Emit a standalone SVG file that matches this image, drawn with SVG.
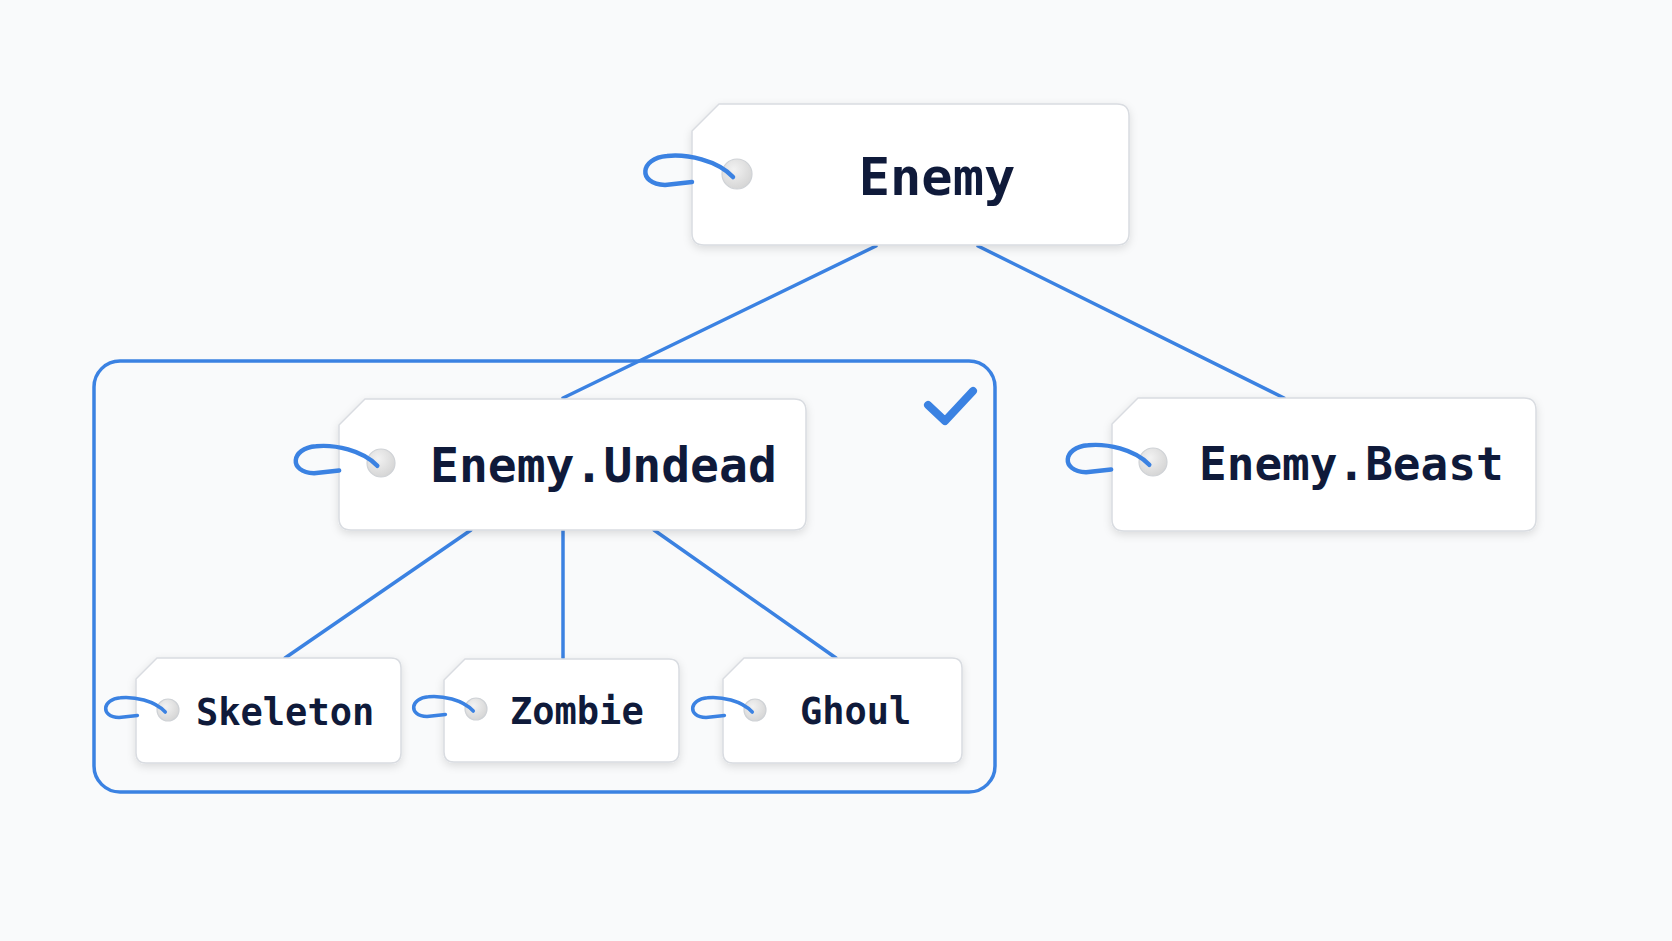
<svg xmlns="http://www.w3.org/2000/svg" xmlns:xlink="http://www.w3.org/1999/xlink" width="1672" height="941" viewBox="0 0 1672 941">
<style>
.tag{fill:#ffffff;stroke:#d9dce1;stroke-width:1.5;filter:url(#sh)}
.hole{fill:url(#hg);stroke:#cfd2d6;stroke-width:1.2}
.loop{fill:none;stroke:#3b82e2;stroke-linecap:round;stroke-linejoin:round}
.edge{fill:none;stroke:#3b82e2;stroke-width:3.5;stroke-linecap:round}
.lbl{font-family:"DejaVu Sans Mono","Liberation Mono",monospace;font-weight:bold;fill:#0f1a3a}
</style>
<defs>
<filter id="sh" x="-10%" y="-10%" width="120%" height="130%">
<feDropShadow dx="0" dy="3" stdDeviation="4" flood-color="#000" flood-opacity="0.12"/>
</filter>
<radialGradient id="hg" cx="0.4" cy="0.35" r="0.7">
<stop offset="0" stop-color="#f2f2f2"/>
<stop offset="1" stop-color="#d4d4d4"/>
</radialGradient>
<path id="lp" d="M -4 3 C -20 -14 -50 -20 -70 -18 C -97 -16 -100 10 -72 11 L -45 8"/>
</defs>
<rect width="1672" height="941" fill="#f9fafb"/>

<g id="group-undead">
<rect x="94" y="361" width="901" height="431" rx="26" fill="none" stroke="#3b82e2" stroke-width="3.5"/>
<path d="M928 405 L945 421 L973 391" fill="none" stroke="#3b82e2" stroke-width="8" stroke-linecap="round" stroke-linejoin="round"/>
</g>

<g id="connectors">
<line class="edge" x1="876" y1="246" x2="563" y2="398"/>
<line class="edge" x1="978" y1="246" x2="1284" y2="398"/>
<line class="edge" x1="471" y1="530" x2="285" y2="658"/>
<line class="edge" x1="563" y1="530" x2="563" y2="658"/>
<line class="edge" x1="654" y1="530" x2="836" y2="658"/>
</g>

<g id="enemy">
<path class="tag" d="M692 131 L719 104 L1117 104 Q1129 104 1129 116 L1129 233 Q1129 245 1117 245 L704 245 Q692 245 692 233 Z"/>
<circle class="hole" cx="737" cy="174" r="15"/>
<use xlink:href="#lp" class="loop" stroke-width="4.5" transform="translate(737 174)"/>
<text class="lbl" x="937" y="195" font-size="52" text-anchor="middle">Enemy</text>
</g>

<g id="enemy-undead">
<path class="tag" d="M339 425 L365 399 L794 399 Q806 399 806 411 L806 518 Q806 530 794 530 L351 530 Q339 530 339 518 Z"/>
<circle class="hole" cx="381" cy="463" r="14"/>
<use xlink:href="#lp" class="loop" stroke-width="4.8" transform="translate(381 463) scale(0.93)"/>
<text class="lbl" x="430" y="482" font-size="48">Enemy.Undead</text>
</g>

<g id="enemy-beast">
<path class="tag" d="M1112 424 L1138 398 L1524 398 Q1536 398 1536 410 L1536 519 Q1536 531 1524 531 L1124 531 Q1112 531 1112 519 Z"/>
<circle class="hole" cx="1153" cy="462" r="14"/>
<use xlink:href="#lp" class="loop" stroke-width="4.8" transform="translate(1153 462) scale(0.93)"/>
<text class="lbl" x="1199" y="480" font-size="46">Enemy.Beast</text>
</g>

<g id="skeleton">
<path class="tag" d="M136 679 L157 658 L391 658 Q401 658 401 668 L401 753 Q401 763 391 763 L146 763 Q136 763 136 753 Z"/>
<circle class="hole" cx="168" cy="710" r="11"/>
<use xlink:href="#lp" class="loop" stroke-width="5.2" transform="translate(168 710) scale(0.68)"/>
<text class="lbl" x="196" y="725" font-size="37">Skeleton</text>
</g>

<g id="zombie">
<path class="tag" d="M444 680 L465 659 L669 659 Q679 659 679 669 L679 752 Q679 762 669 762 L454 762 Q444 762 444 752 Z"/>
<circle class="hole" cx="476" cy="709" r="11"/>
<use xlink:href="#lp" class="loop" stroke-width="5.2" transform="translate(476 709) scale(0.68)"/>
<text class="lbl" x="510" y="724" font-size="37">Zombie</text>
</g>

<g id="ghoul">
<path class="tag" d="M723 679 L744 658 L952 658 Q962 658 962 668 L962 753 Q962 763 952 763 L733 763 Q723 763 723 753 Z"/>
<circle class="hole" cx="755" cy="710" r="11"/>
<use xlink:href="#lp" class="loop" stroke-width="5.2" transform="translate(755 710) scale(0.68)"/>
<text class="lbl" x="800" y="724" font-size="37">Ghoul</text>
</g>
</svg>
